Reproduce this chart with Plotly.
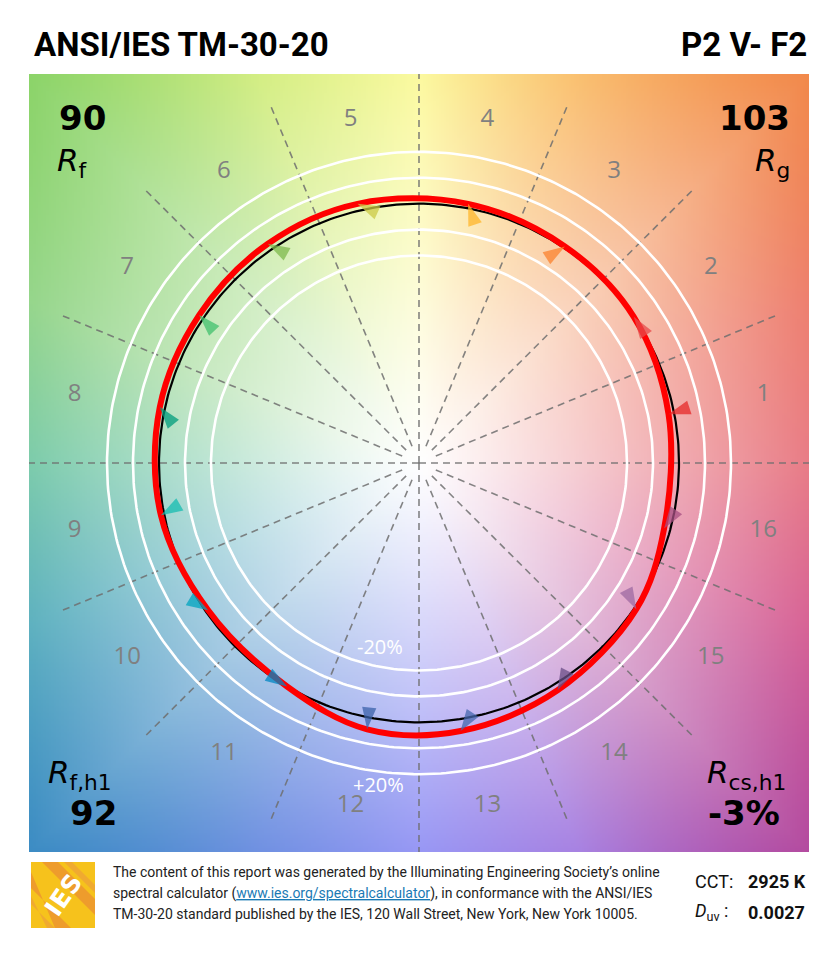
import math, zlib, struct, base64
import numpy as np
import plotly.graph_objects as go

# ---------------- data ----------------
bins = list(range(1, 17))
bin_labels = [str(b) for b in bins]
# test-source hue angle (deg) and relative chroma (reference = 1) per hue bin
test_hue_deg = [11.1, 34.3, 56.1, 79.3, 103.3, 124.5, 146.0, 167.8,
                191.5, 215.0, 239.5, 259.0, 278.8, 301.3, 326.0, 345.0]
test_chroma = [0.978, 1.000, 1.006, 1.017, 1.027, 1.026, 1.020, 1.020,
               1.013, 0.990, 1.000, 1.046, 1.046, 1.026, 1.008, 0.976]
bin_colors = ["#e62828", "#e74b4b", "#fb812e", "#ffb529", "#cbca46", "#7eb94c",
              "#41c06d", "#009c7c", "#16bcb0", "#00a4bf", "#0085c3", "#3b62aa",
              "#4568ae", "#6a4e85", "#9d69a1", "#a74f81"]
grid_radii = [0.8, 0.9, 1.1, 1.2]
Rf, Rg, Rf_h1, Rcs_h1 = "90", "103", "92", "-3%"
CCT, Duv = "2925 K", "0.0027"
title_left, title_right = "ANSI/IES TM-30-20", "P2 V- F2"

# ---------------- geometry helpers (screen px -> paper) ----------------
OFF = 8                      # default page body margin
W, H = 823, 944
L, R, T, B = 21, 22, 66, 100
PW, PH = W - L - R, H - T - B
def px(xs):
    return (xs - OFF - L) / PW
def py(ys):
    return (H - B - (ys - OFF)) / PH

# ---------------- background image (hue-tinted gradient) ----------------
anchor_cols = np.array([
    (233, 125, 135), (238, 128, 112), (242, 137, 75), (250, 192, 112),
    (252, 250, 160), (212, 238, 132), (140, 212, 105), (150, 214, 140),
    (125, 204, 172), (95, 178, 192), (60, 140, 196), (112, 145, 226),
    (152, 152, 245), (168, 130, 226), (180, 75, 160), (216, 100, 150)], float)
N = 300
g = (np.arange(N) + 0.5) / N * 3.0 - 1.5
X, Y = np.meshgrid(g, -g)
ang = (np.degrees(np.arctan2(Y, X)) % 360.0) / 22.5
i0 = np.floor(ang).astype(int) % 16
i1 = (i0 + 1) % 16
f = (ang - np.floor(ang))[..., None]
edge = anchor_cols[i0] * (1 - f) + anchor_cols[i1] * f
t = (np.maximum(np.abs(X), np.abs(Y)) / 1.5) ** 1.1
img = 255 * (1 - t[..., None]) + edge * t[..., None]
img = np.clip(img, 0, 255).astype(np.uint8)

def to_png(a):
    h, w = a.shape[:2]
    raw = b"".join(b"\x00" + a[r].tobytes() for r in range(h))
    def chunk(tag, data):
        c = struct.pack(">I", len(data)) + tag + data
        return c + struct.pack(">I", zlib.crc32(tag + data) & 0xffffffff)
    return (b"\x89PNG\r\n\x1a\n" + chunk(b"IHDR", struct.pack(">IIBBBBB", w, h, 8, 2, 0, 0, 0))
            + chunk(b"IDAT", zlib.compress(raw, 9)) + chunk(b"IEND", b""))
bg_src = "data:image/png;base64," + base64.b64encode(to_png(img)).decode()

fig = go.Figure()

# dashed hue-bin boundaries
dx, dy = [], []
for k in range(16):
    a = math.radians(k * 22.5)
    r0 = 0.0 if k % 4 == 0 else 0.07
    dx += [r0 * math.cos(a), 1.5 * math.cos(a), None]
    dy += [r0 * math.sin(a), 1.5 * math.sin(a), None]
fig.add_trace(go.Scatter(x=dx, y=dy, mode="lines", hoverinfo="skip",
                         line=dict(color="rgba(110,110,110,0.85)", width=1.6, dash="7px,5px")))

# white grid circles + black reference circle
th = np.linspace(0, 2 * np.pi, 361)
for r in grid_radii:
    fig.add_trace(go.Scatter(x=r * np.cos(th), y=r * np.sin(th), mode="lines",
                             hoverinfo="skip", line=dict(color="white", width=2.6)))
fig.add_trace(go.Scatter(x=np.cos(th), y=np.sin(th), mode="lines", hoverinfo="skip",
                         line=dict(color="black", width=2.2)))

# test-source red curve
ta = np.radians(test_hue_deg)
tx = np.array(test_chroma) * np.cos(ta)
ty = np.array(test_chroma) * np.sin(ta)
fig.add_trace(go.Scatter(x=list(tx) + [tx[0]], y=list(ty) + [ty[0]], mode="lines",
                         hoverinfo="skip",
                         line=dict(color="#ff0000", width=6, shape="spline", smoothing=1.0)))

# arrow heads: reference (unit circle, bin centre) -> test point
ca = np.radians((np.array(bins) - 0.5) * 22.5)
ux = tx - np.cos(ca)
uy = ty - np.sin(ca)
arrow_ang = np.degrees(np.arctan2(ux, uy))
fig.add_trace(go.Scatter(x=tx, y=ty, mode="markers", hoverinfo="skip",
                         marker=dict(symbol="arrow", size=23, angle=arrow_ang,
                                     color=bin_colors, opacity=0.75, line=dict(width=0))))

# bin numbers
fig.add_trace(go.Scatter(x=1.35 * np.cos(ca), y=1.35 * np.sin(ca), mode="text",
                         text=bin_labels, hoverinfo="skip",
                         textfont=dict(family="Open Sans", size=24, color="#808080")))

ann = []
ann.append(dict(x=-0.15, y=-0.708, xref="x", yref="y", text="-20%", showarrow=False,
                font=dict(family="Open Sans", size=20, color="white")))
ann.append(dict(x=-0.155, y=-1.24, xref="x", yref="y", text="+20%", showarrow=False,
                font=dict(family="Open Sans", size=20, color="white")))

def txt(x, y, s, size, xa="left", fam="DejaVu Sans", color="black"):
    ann.append(dict(x=x, y=y, xref="paper", yref="paper", text=s, showarrow=False,
                    xanchor=xa, yanchor="middle", font=dict(family=fam, size=size, color=color)))

cond = "Roboto, sans-serif"
txt(px(32), py(45), "<b>" + title_left + "</b>", 33, "left", cond)
txt(px(809), py(45), "<b>" + title_right + "</b>", 33, "right", cond)

txt(px(57), py(118), "<b>" + Rf + "</b>", 34)
txt(px(55), py(162), "<i>R</i><sub>f</sub>", 31)
txt(px(792), py(118), "<b>" + Rg + "</b>", 34, "right")
txt(px(792), py(162), "<i>R</i><sub>g</sub>", 31, "right")
txt(px(46), py(774), "<i>R</i><sub>f,h1</sub>", 31)
txt(px(119), py(813), "<b>" + Rf_h1 + "</b>", 34, "right")
txt(px(788), py(774), "<i>R</i><sub>cs,h1</sub>", 31, "right")
txt(px(782), py(813), "<b>" + Rcs_h1 + "</b>", 34, "right")

foot = ["The content of this report was generated by the Illuminating Engineering Society\u2019s online",
        "spectral calculator (<span style='color:#1a7ab5;text-decoration:underline'>www.ies.org/spectralcalculator</span>), in conformance with the ANSI/IES",
        "TM-30-20 standard published by the IES, 120 Wall Street, New York, New York 10005."]
for i, s in enumerate(foot):
    txt(px(111), py(872 + 21 * i), s, 14, "left", cond, "#222222")

txt(px(693), py(881), "CCT:", 18, "left", cond, "#111111")
txt(px(746), py(881), "<b>" + CCT + "</b>", 18, "left", cond, "#111111")
txt(px(693), py(912), "<i>D</i><sub>uv</sub> :", 18, "left", cond, "#111111")
txt(px(746), py(912), "<b>" + Duv + "</b>", 18, "left", cond, "#111111")

# IES logo
shapes = [dict(type="rect", xref="paper", yref="paper", x0=px(31), x1=px(95), y0=py(928), y1=py(862),
               fillcolor="#f6c21c", line=dict(width=0), layer="above")]
def poly(pts, col):
    p = "M " + " L ".join(f"{px(a):.5f},{py(b):.5f}" for a, b in pts) + " Z"
    shapes.append(dict(type="path", xref="paper", yref="paper", path=p, fillcolor=col,
                       line=dict(width=0), layer="above"))
poly([(42, 862), (58, 862), (95, 899), (95, 915)], "#ee9c2c")
poly([(31, 872), (31, 888), (71, 928), (55, 928)], "#ee9c2c")
poly([(64, 862), (72, 862), (95, 885), (95, 893)], "#f0aa30")
poly([(31, 896), (31, 904), (55, 928), (47, 928)], "#f0aa30")
ann.append(dict(x=px(63), y=py(895), xref="paper", yref="paper", text="<b>IES</b>",
                showarrow=False, textangle=-55, xanchor="center", yanchor="middle",
                font=dict(family="DejaVu Sans", size=25, color="white")))

fig.update_layout(
    width=W, height=H, margin=dict(l=L, r=R, t=T, b=B),
    paper_bgcolor="white", plot_bgcolor="white", showlegend=False,
    xaxis=dict(range=[-1.5, 1.5], visible=False, fixedrange=True),
    yaxis=dict(range=[-1.5, 1.5], visible=False, fixedrange=True),
    images=[dict(source=bg_src, xref="x", yref="y", x=-1.5, y=1.5, sizex=3, sizey=3,
                 xanchor="left", yanchor="top", sizing="stretch", layer="below")],
    annotations=ann, shapes=shapes,
)
fig.write_html("out.html")
